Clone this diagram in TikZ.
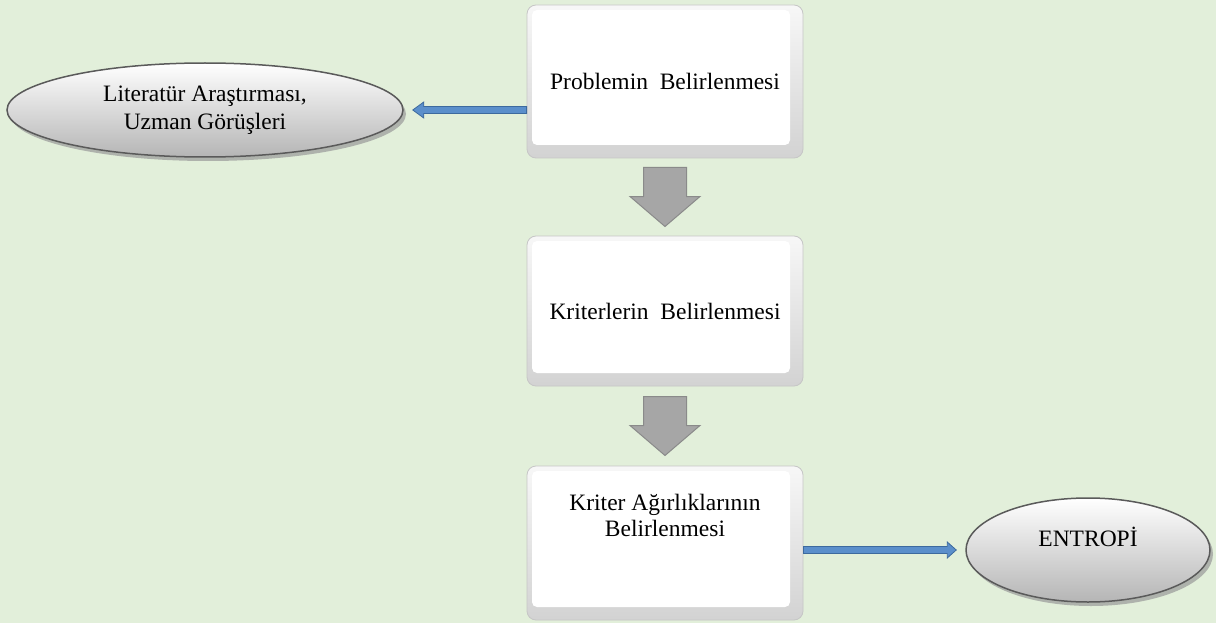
\documentclass[tikz,border=0pt]{standalone}
\usepackage{fontspec}
\setmainfont{Liberation Serif}
\usetikzlibrary{shapes.geometric,shadows,calc}
\definecolor{bgc}{HTML}{E2EFDA}
\definecolor{arrblue}{HTML}{5B8FCB}
\definecolor{arrblued}{HTML}{3D6A9E}
\definecolor{garr}{HTML}{A6A6A6}
\definecolor{garrd}{HTML}{8A8A8A}
\definecolor{elld}{HTML}{5A5A5A}
\newcommand\grayarrowat[1]{%
  \begin{scope}[shift={(#1)}]
    \draw[grayarr] (-21.5,-29.5) -- (21.5,-29.5) -- (21.5,-0.5) -- (35,-0.5) -- (0,29.5) -- (-35,-0.5) -- (-21.5,-0.5) -- cycle;
  \end{scope}}
\begin{document}
\begin{tikzpicture}[x=1pt,y=-1pt,
  every node/.style={font=\fontsize{23.5}{28.5}\selectfont},
  stepbox/.style={rectangle, rounded corners=9pt, minimum width=276pt, minimum height=153pt,
    draw=gray!45, line width=0.8pt, top color=gray!6, bottom color=gray!35, inner sep=0pt, align=center,
    path picture={\fill[white,rounded corners=5pt] ([shift={(5pt,-5pt)}]path picture bounding box.north west) rectangle ([shift={(-13pt,13pt)}]path picture bounding box.south east);}},
  ovalbox/.style={ellipse, inner sep=0pt, align=center, draw=elld, line width=1.5pt,
    top color=white, bottom color=gray!58,
    drop shadow={shadow xshift=3pt, shadow yshift=-4pt, fill=gray!80, opacity=0.7}},
  grayarr/.style={draw=garrd, fill=garr, line width=1pt, line join=miter},
  bluearr/.style={draw=arrblued, fill=arrblue, line width=0.8pt, line join=miter}
]
\fill[bgc] (0,0) rectangle (1216,623);
\useasboundingbox (0,0) rectangle (1216,623);

\node[stepbox] (b1) at (665,81.5) {Problemin\ \ Belirlenmesi};
\node[stepbox, minimum height=150pt] (b2) at (665,311) {Kriterlerin\ \ Belirlenmesi};
\node[stepbox, minimum height=154pt] (b3) at (665,543) {};
\node[align=center, font=\fontsize{23.5}{26}\selectfont] (b3t) at ($(b3.center)+(0,-28)$) {Kriter Ağırlıklarının\\Belirlenmesi};

\node[ovalbox, minimum width=396pt, minimum height=94pt] (e1) at (205,110) {Literatür Araştırması,\\Uzman Görüşleri};
\node[ovalbox, minimum width=244pt, minimum height=104pt] (e2) at (1088,550) {};
\node (e2t) at ($(e2.center)+(0,-13)$) {ENTROPİ};

\coordinate (a1) at ($(b1.south)!0.5!(b2.north)$);
\coordinate (a2) at ($(b2.south)!0.5!(b3.north)$);
\grayarrowat{a1}
\grayarrowat{a2}

\draw[bluearr] let \p1=(b1.west|-e1.east), \p2=($(e1.east)+(9,0)$) in
  (\x1,\y1+3.5pt) -- (\x2+11pt,\y1+3.5pt) -- (\x2+11pt,\y1+8pt) -- (\x2,\y1) -- (\x2+11pt,\y1-8pt) -- (\x2+11pt,\y1-3.5pt) -- (\x1,\y1-3.5pt) -- cycle;
\draw[bluearr] let \p1=(b3.east|-e2.west), \p2=($(e2.west)+(-9,0)$) in
  (\x1,\y1+3.5pt) -- (\x2-9pt,\y1+3.5pt) -- (\x2-9pt,\y1+8pt) -- (\x2,\y1) -- (\x2-9pt,\y1-8pt) -- (\x2-9pt,\y1-3.5pt) -- (\x1,\y1-3.5pt) -- cycle;
\end{tikzpicture}
\end{document}
